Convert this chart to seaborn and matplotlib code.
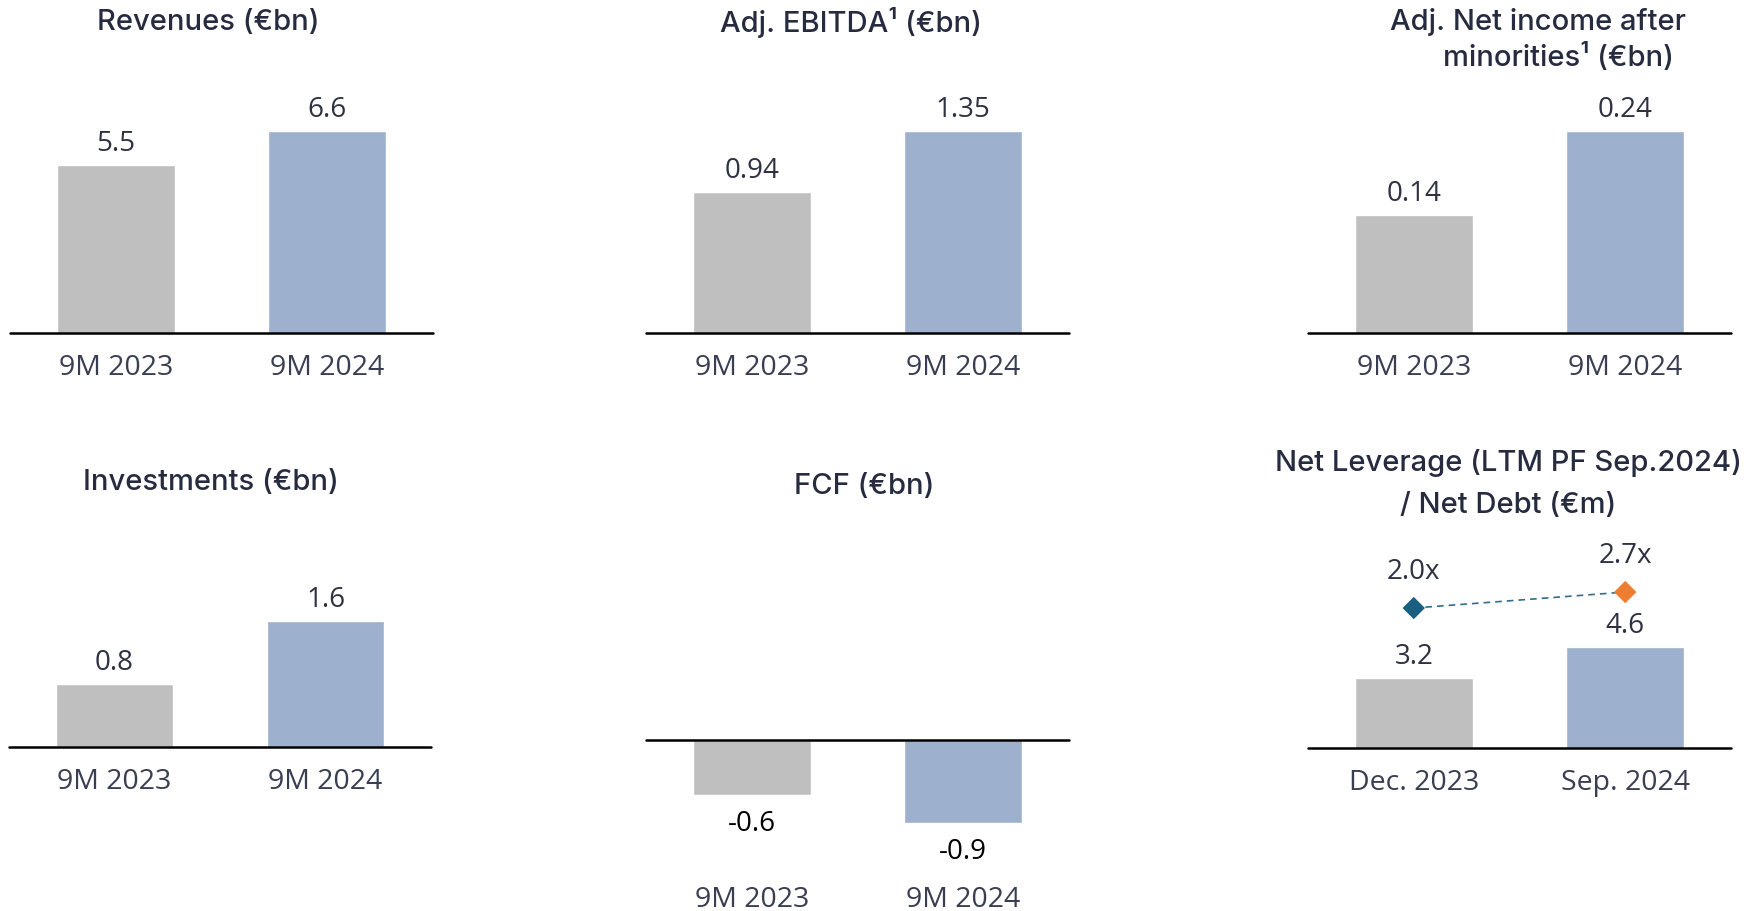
import matplotlib
matplotlib.use("Agg")
import matplotlib.pyplot as plt
import seaborn as sns
import pandas as pd

# ---- data -------------------------------------------------------------
periods = ["9M 2023", "9M 2024"]
revenues = [5.5, 6.6]
adj_ebitda = [0.94, 1.35]
adj_net_income = [0.14, 0.24]
investments = [0.8, 1.6]
fcf = [-0.6, -0.9]

debt_dates = ["Dec. 2023", "Sep. 2024"]
net_debt = [3.2, 4.6]
net_leverage = [2.0, 2.7]

# ---- style ------------------------------------------------------------
sns.set_theme(style="white")
plt.rcParams["font.family"] = ["Open Sans", "DejaVu Sans"]

GREY = "#BFBFBF"
BLUE = "#9DB0CD"
TEAL = "#1B5F80"
ORANGE = "#ED7D31"
TITLE_COLOR = "#262B40"
LABEL_COLOR = "#2E3141"
TICK_COLOR = "#3A3E52"

W, H = 1744, 911
fig = plt.figure(figsize=(W / 100, H / 100), dpi=100)


def rect(x0, x1, y_top, y_bottom):
    """Axes rectangle in figure fractions from pixel extents."""
    return [x0 / W, (H - y_bottom) / H, (x1 - x0) / W, (y_bottom - y_top) / H]


def bar_panel(r, cats, vals, ylim, fmt, label_color=LABEL_COLOR):
    ax = fig.add_axes(r)
    df = pd.DataFrame({"cat": cats, "val": vals})
    sns.barplot(data=df, x="cat", y="val", hue="cat", palette=[GREY, BLUE],
                width=0.557, saturation=1, legend=False, ax=ax)
    ax.set_xlim(-0.5, 1.5)
    ax.set_ylim(*ylim)
    ax.axhline(0, color="black", lw=1.8, zorder=3, clip_on=False)
    for c, v in zip(ax.containers, vals):
        ax.bar_label(c, labels=[fmt.format(v)], padding=5 if v >= 0 else 11,
                     fontsize=20, color=label_color)
    for s in ax.spines.values():
        s.set_visible(False)
    ax.set_xlabel("")
    ax.set_ylabel("")
    ax.set_yticks([])
    ax.tick_params(axis="x", length=0, pad=15, labelsize=20.5,
                   labelcolor=TICK_COLOR)
    ax.patch.set_alpha(0)
    return ax


def title(text, x, y, ha="center", spacing=1.4):
    fig.text(x / W, 1 - y / H, text, ha=ha, va="center", fontsize=21,
             color=TITLE_COLOR, family=["Inter", "DejaVu Sans"],
             weight="medium", linespacing=spacing)


# ---- top row ------------------------------------------------------------
head = 243 / 202
bar_panel(rect(10, 433, 90, 333), periods, revenues,
          (0, max(revenues) * head), "{:.1f}")
bar_panel(rect(646, 1069, 90, 333), periods, adj_ebitda,
          (0, max(adj_ebitda) * head), "{:.2f}")
bar_panel(rect(1308, 1731, 90, 333), periods, adj_net_income,
          (0, max(adj_net_income) * head), "{:.2f}")

title("Revenues (€bn)", 208, 23)
title("Adj. EBITDA¹ (€bn)", 851, 23)
title("Adj. Net income after", 1686, 22, ha="right")
title("minorities¹ (€bn)", 1674, 57, ha="right")

# ---- bottom row ---------------------------------------------------------
bar_panel(rect(9, 431, 520, 747), periods, investments, (0, 2.88), "{:.1f}")
bar_panel(rect(646, 1069, 520, 865), periods, fcf, (-1.363, 2.40), "{:.1f}",
          label_color="black")
ax_lev = bar_panel(rect(1308, 1731, 520, 748), debt_dates, net_debt,
                   (0, 10.38), "{:.1f}")

# leverage ratio on a secondary scale
ax2 = ax_lev.twinx()
pos = list(range(len(debt_dates)))
ax2.plot(pos, net_leverage, ls=(0, (4, 3)), lw=1.2, color="#2E6E8E", zorder=2)
sns.scatterplot(x=pos, y=net_leverage, hue=debt_dates, palette=[TEAL, ORANGE],
                marker="D", s=130, edgecolor="none", legend=False, ax=ax2,
                zorder=3)
for x, v in zip(pos, net_leverage):
    ax2.annotate(f"{v:.1f}x", (x, v), xytext=(0, 26),
                 textcoords="offset points", ha="center", va="center",
                 fontsize=20, color=LABEL_COLOR)
ax2.set_ylim(-4.12, 5.85)
ax2.set_xlim(-0.5, 1.5)
ax2.set_yticks([])
for s in ax2.spines.values():
    s.set_visible(False)

title("Investments (€bn)", 211, 482)
title("FCF (€bn)", 864, 486)
title("Net Leverage (LTM PF Sep.2024)\n/ Net Debt (€m)", 1508, 484,
      spacing=1.75)

fig.savefig("out.png", dpi=100, facecolor="white")
